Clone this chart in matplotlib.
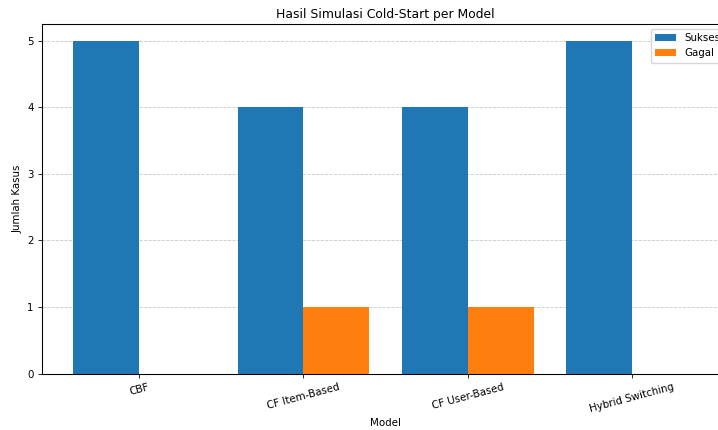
import matplotlib
matplotlib.use('Agg')
import matplotlib.pyplot as plt
import numpy as np

# data
models = ['CBF', 'CF Item-Based', 'CF User-Based', 'Hybrid Switching']
sukses = [5, 4, 4, 5]
gagal = [0, 1, 1, 0]

x = np.arange(len(models))
width = 0.4

# the reference looks like a bigger figure shrunk to ~0.74
s = 0.74
plt.rcParams.update({
    'font.size': 10 * s,
    'axes.titlesize': 12 * s,
    'axes.linewidth': 0.8 * s * 1.3,
    'xtick.major.size': 3.5 * s,
    'ytick.major.size': 3.5 * s,
    'xtick.major.width': 0.8 * s,
    'ytick.major.width': 0.8 * s,
    'axes.titlepad': 6 * s,
    'axes.labelpad': 4 * s,
})

fig = plt.figure(figsize=(7.18, 4.30), dpi=100)
ax = fig.add_axes([0.0585, 0.131, 0.957, 0.813])

ax.bar(x - width / 2, sukses, width, label='Sukses', color='#1f77b4')
ax.bar(x + width / 2, gagal, width, label='Gagal', color='#ff7f0e')

ax.set_title('Hasil Simulasi Cold-Start per Model')
ax.set_xlabel('Model')
ax.set_ylabel('Jumlah Kasus')
ax.set_xticks(x)
ax.set_xticklabels(models, rotation=15)
ax.grid(axis='y', linestyle='--', alpha=0.7, linewidth=0.6)
ax.set_axisbelow(True)
ax.legend(loc='upper right')

fig.savefig('out.png', dpi=100)
